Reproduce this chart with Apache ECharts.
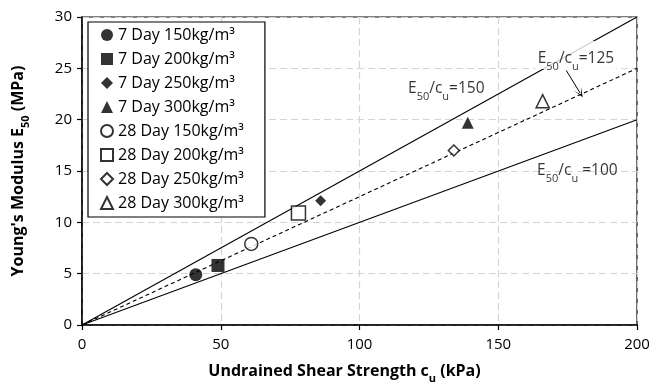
<!DOCTYPE html>
<html>
<head>
<meta charset="utf-8">
<script src="https://cdn.jsdelivr.net/npm/echarts@6/dist/echarts.min.js"></script>
<style>
  html, body { margin: 0; padding: 0; background: #fff; }
  #chart { width: 653px; height: 389px; }
</style>
</head>
<body>
<div id="chart"></div>
<script>
// data: [cu (kPa), E50 (MPa)]
const SERIES_NAMES = [
  '7 Day 150kg/m³', '7 Day 200kg/m³', '7 Day 250kg/m³', '7 Day 300kg/m³',
  '28 Day 150kg/m³', '28 Day 200kg/m³', '28 Day 250kg/m³', '28 Day 300kg/m³'
];
const CU = [41, 49, 86, 139, 61, 78, 134, 166];
const E50 = [4.9, 5.8, 12.1, 19.7, 7.9, 10.9, 17.0, 21.8];
const SYMBOLS = ['circle', 'rect', 'diamond', 'triangle', 'circle', 'rect', 'diamond', 'triangle'];
const FILLED = [true, true, true, true, false, false, false, false];
const SIZES = [13, 13, 11, 12, 13, 14, 11, 13];

// E50/cu reference lines
const RATIOS = [150, 125, 100];
const CU_RANGE = [0, 200];
const X_TICKS = [0, 50, 100, 150, 200];
const Y_TICKS = [0, 5, 10, 15, 20, 25, 30];

const FONT = 'Open Sans';
const chart = echarts.init(document.getElementById('chart'));

const sub = { fontSize: 11, fontFamily: FONT, color: '#000', verticalAlign: 'bottom', padding: [0, 0, -5, 0] };
const normal = { fontSize: 15.5, fontFamily: FONT, color: '#000' };

const pointSeries = SERIES_NAMES.map((name, i) => ({
  name,
  type: 'scatter',
  symbol: SYMBOLS[i],
  symbolSize: SIZES[i],
  itemStyle: FILLED[i]
    ? { color: '#000' }
    : { color: '#fff', borderColor: '#000', borderWidth: 1.5 },
  data: [[CU[i], E50[i]]],
  z: 5
}));

const lineSeries = RATIOS.map((r) => ({
  type: 'line',
  symbol: 'none',
  silent: true,
  lineStyle: { color: '#000', width: 1.1, type: r === 125 ? [4, 3] : 'solid' },
  data: CU_RANGE.map((c) => [c, r * c / 1000]),
  z: 3
}));

// annotation labels
const NOTES = [
  { value: [117.5, 23.0], txt: '150', gap: '', bg: null },
  { value: [163.5, 26.3], txt: '125', gap: '', bg: '#fff' },
  { value: [164, 15.0], txt: '100', gap: ' ', bg: null }
];

const noteSeries = {
  type: 'scatter',
  symbolSize: 0,
  silent: true,
  z: 4,
  data: NOTES.map((n) => ({
    value: n.value, txt: n.txt, gap: n.gap,
    label: n.bg ? { backgroundColor: n.bg, padding: [10, 2, 2, 2], offset: [-2, -4] } : {}
  })),
  labelLayout: { hideOverlap: false },
  label: {
    show: true,
    position: 'right',
    distance: 0,
    align: 'left',
    verticalAlign: 'middle',
    formatter: (p) => '{n|E}{s|50}{n|/c}{s|u}{n|' + p.data.gap + '=' + p.data.txt + '}',
    rich: { n: normal, s: sub }
  },
  markLine: {
    silent: true,
    symbol: ['none', 'path://M0,10 L5,0 L10,10 L5,3 Z'],
    symbolSize: [8, 10],
    label: { show: false },
    lineStyle: { color: '#000', width: 1, type: 'solid' },
    data: [[{ coord: [174.5, 24.8] }, { coord: [179.5, 22.6] }]]
  }
};

const boldRich = {
  b: { fontFamily: FONT, fontWeight: 'bold', fontSize: 16, color: '#000' },
  bs: { fontFamily: FONT, fontWeight: 'bold', fontSize: 11, color: '#000', verticalAlign: 'bottom', padding: [0, 0, -5, 0] }
};

chart.setOption({
  animation: false,
  backgroundColor: '#fff',
  textStyle: { fontFamily: FONT },
  grid: {
    left: 82, right: 16, top: 17, bottom: 62,
    show: true, borderColor: '#000', borderWidth: 1.2, backgroundColor: 'transparent'
  },
  legend: {
    data: SERIES_NAMES,
    orient: 'vertical',
    left: 88,
    top: 22,
    padding: [5, 21, 6, 12],
    itemGap: 8,
    itemWidth: 12,
    itemHeight: 12,
    itemTextGap: 5,
    borderColor: '#000',
    borderWidth: 1.2,
    backgroundColor: '#fff',
    textStyle: { fontFamily: FONT, fontSize: 16, color: '#000' }
  },
  xAxis: {
    type: 'value',
    min: X_TICKS[0],
    max: X_TICKS[X_TICKS.length - 1],
    interval: X_TICKS[1] - X_TICKS[0],
    name: '{b|Undrained Shear Strength c}{bs|u}{b| (kPa)}',
    nameLocation: 'middle',
    nameGap: 38,
    nameTextStyle: { padding: [0, 30, 0, 0], rich: boldRich },
    axisLine: { onZero: false, lineStyle: { color: '#000', width: 1.5 } },
    axisTick: { show: true, length: 5, lineStyle: { color: '#000', width: 1.2 } },
    axisLabel: { fontFamily: FONT, fontSize: 15, color: '#000', margin: 12 },
    splitLine: { show: true, lineStyle: { color: '#d4d4d4', width: 1.2, type: [7, 4] } }
  },
  yAxis: {
    type: 'value',
    min: Y_TICKS[0],
    max: Y_TICKS[Y_TICKS.length - 1],
    interval: Y_TICKS[1] - Y_TICKS[0],
    name: "{b|Young's Modulus E}{bs|50}{b| (MPa)}",
    nameLocation: 'middle',
    nameGap: 56,
    nameTextStyle: { rich: boldRich },
    axisLine: { onZero: false, lineStyle: { color: '#000', width: 1.5 } },
    axisTick: { show: true, length: 5, lineStyle: { color: '#000', width: 1.2 } },
    axisLabel: { fontFamily: FONT, fontSize: 15, color: '#000', margin: 10 },
    splitLine: { show: true, lineStyle: { color: '#d4d4d4', width: 1.2, type: [7, 4] } }
  },
  series: [...lineSeries, noteSeries, ...pointSeries]
});
</script>
</body>
</html>
